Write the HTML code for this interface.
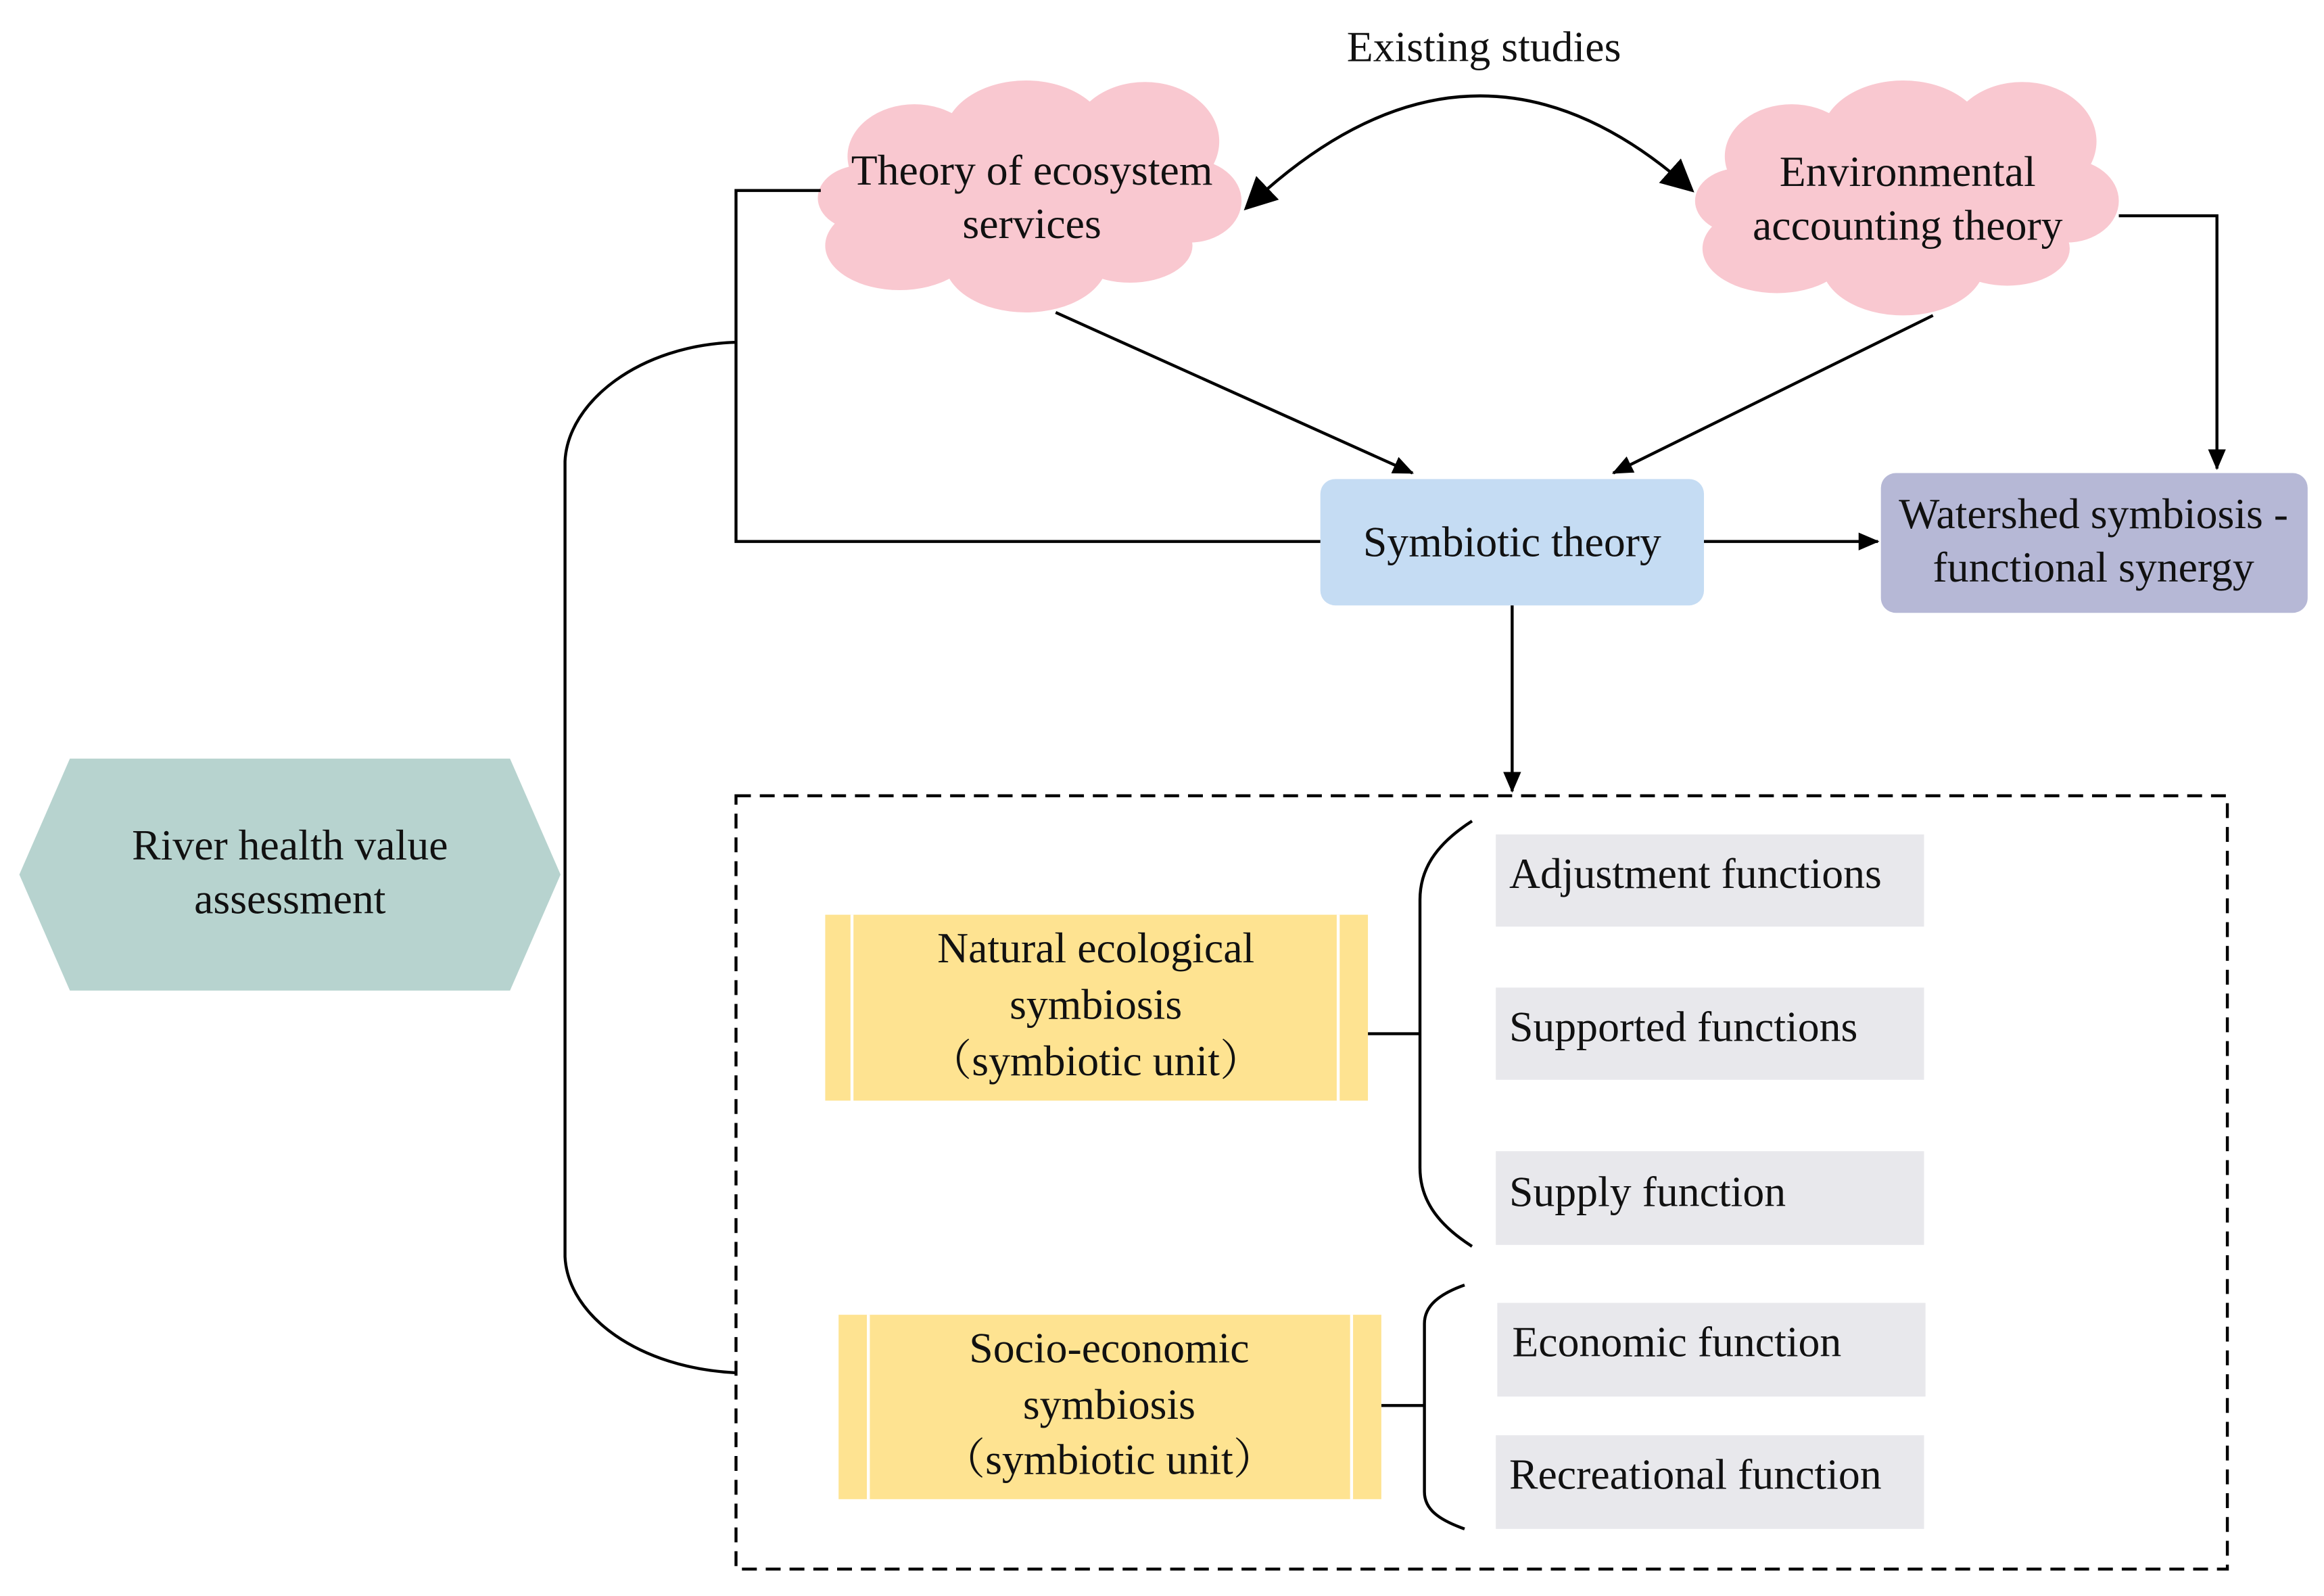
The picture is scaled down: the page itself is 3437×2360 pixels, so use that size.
<!DOCTYPE html>
<html><head><meta charset="utf-8"><style>
html,body{margin:0;padding:0;background:#fff;}
svg{display:block;}
text{font-family:"Liberation Serif","Noto Serif CJK SC",serif;font-size:29px;fill:#111;}
</style></head><body>
<svg width="3437" height="2360" viewBox="0 0 1563 1073" xmlns="http://www.w3.org/2000/svg">
<defs>
<marker id="a" markerWidth="14" markerHeight="14" refX="13" refY="7" orient="auto" markerUnits="userSpaceOnUse" viewBox="0 0 14 14"><path d="M0,1 L14,7 L0,13z" fill="#000"/></marker>
<marker id="b" markerWidth="22" markerHeight="22" refX="20" refY="11" orient="auto-start-reverse" markerUnits="userSpaceOnUse" viewBox="0 0 22 22"><path d="M0,0 L22,11 L0,22z" fill="#000"/></marker>
</defs>
<rect width="1563" height="1073" fill="#fff"/>
<text x="998" y="41" text-anchor="middle">Existing studies</text>
<path d="M838,140 Q990,-5 1138,128" fill="none" stroke="#000" stroke-width="2" marker-start="url(#b)" marker-end="url(#b)"/>
<!-- cloud 1 -->
<g fill="#f9c8d0">
<ellipse cx="615" cy="105" rx="45" ry="35"/>
<ellipse cx="690" cy="92" rx="55" ry="38"/>
<ellipse cx="770" cy="95" rx="50" ry="40"/>
<ellipse cx="800" cy="135" rx="35" ry="28"/>
<ellipse cx="760" cy="165" rx="42" ry="25"/>
<ellipse cx="690" cy="175" rx="55" ry="35"/>
<ellipse cx="605" cy="165" rx="50" ry="30"/>
<ellipse cx="580" cy="133" rx="30" ry="22"/>
<ellipse cx="690" cy="133" rx="120" ry="45"/>
</g>
<!-- cloud 2 -->
<g fill="#f9c8d0">
<ellipse cx="1205" cy="105" rx="45" ry="35"/>
<ellipse cx="1280" cy="92" rx="55" ry="38"/>
<ellipse cx="1360" cy="95" rx="50" ry="40"/>
<ellipse cx="1390" cy="135" rx="35" ry="28"/>
<ellipse cx="1350" cy="167" rx="42" ry="25"/>
<ellipse cx="1280" cy="177" rx="55" ry="35"/>
<ellipse cx="1195" cy="167" rx="50" ry="30"/>
<ellipse cx="1170" cy="135" rx="30" ry="22"/>
<ellipse cx="1280" cy="135" rx="120" ry="45"/>
</g>
<text x="694" y="124" text-anchor="middle">Theory of ecosystem</text>
<text x="694" y="160" text-anchor="middle">services</text>
<text x="1283" y="125" text-anchor="middle">Environmental</text>
<text x="1283" y="161" text-anchor="middle">accounting theory</text>
<!-- boxes -->
<rect x="888" y="322" width="258" height="85" rx="10" fill="#c5dcf3"/>
<text x="1017" y="374" text-anchor="middle">Symbiotic theory</text>
<rect x="1265" y="318" width="287" height="94" rx="10" fill="#b6b8d6"/>
<text x="1408" y="355" text-anchor="middle">Watershed symbiosis -</text>
<text x="1408" y="391" text-anchor="middle">functional synergy</text>
<!-- connectors -->
<g fill="none" stroke="#000" stroke-width="2">
<path d="M710,210 L950,318" marker-end="url(#a)"/>
<path d="M1300,212 L1085,318" marker-end="url(#a)"/>
<path d="M1425,145 L1491,145 L1491,315" marker-end="url(#a)"/>
<path d="M1146,364 L1263,364" marker-end="url(#a)"/>
<path d="M1017,407 L1017,532" marker-end="url(#a)"/>
<path d="M552,128 L495,128 L495,364 L888,364"/>
<path d="M495,230 C430,232 382,270 380,310 L380,845 C382,885 430,920 495,923"/>
<rect x="495" y="535" width="1003" height="520" stroke-dasharray="10,6"/>
<path d="M920,695 L955,695"/>
<path d="M990,552 C965,568 955,585 955,605 L955,785 C955,805 965,822 990,838"/>
<path d="M929,945 L958,945"/>
<path d="M985,864 C968,870 958,878 958,890 L958,1003 C958,1015 968,1022 985,1028"/>
</g>
<!-- hexagon -->
<polygon points="47,510 343,510 377,588 343,666 47,666 13,588" fill="#b7d3cf"/>
<text x="195" y="578" text-anchor="middle">River health value</text>
<text x="195" y="614" text-anchor="middle">assessment</text>
<!-- yellow boxes -->
<rect x="555" y="615" width="365" height="125" fill="#fee391"/>
<line x1="573" y1="615" x2="573" y2="740" stroke="#fff" stroke-width="2"/>
<line x1="900" y1="615" x2="900" y2="740" stroke="#fff" stroke-width="2"/>
<text x="737" y="647" text-anchor="middle">Natural ecological</text>
<text x="737" y="685" text-anchor="middle">symbiosis</text>
<text x="737" y="723" text-anchor="middle">（symbiotic unit）</text>
<rect x="564" y="884" width="365" height="124" fill="#fee391"/>
<line x1="584" y1="884" x2="584" y2="1008" stroke="#fff" stroke-width="2"/>
<line x1="909" y1="884" x2="909" y2="1008" stroke="#fff" stroke-width="2"/>
<text x="746" y="916" text-anchor="middle">Socio-economic</text>
<text x="746" y="954" text-anchor="middle">symbiosis</text>
<text x="746" y="991" text-anchor="middle">（symbiotic unit）</text>
<!-- gray boxes -->
<g fill="#e8e8ec">
<rect x="1006" y="561" width="288" height="62"/>
<rect x="1006" y="664" width="288" height="62"/>
<rect x="1006" y="774" width="288" height="63"/>
<rect x="1007" y="876" width="288" height="63"/>
<rect x="1006" y="965" width="288" height="63"/>
</g>
<text x="1015" y="597">Adjustment functions</text>
<text x="1015" y="700">Supported functions</text>
<text x="1015" y="811">Supply function</text>
<text x="1017" y="912">Economic function</text>
<text x="1015" y="1001">Recreational function</text>
</svg>
</body></html>
